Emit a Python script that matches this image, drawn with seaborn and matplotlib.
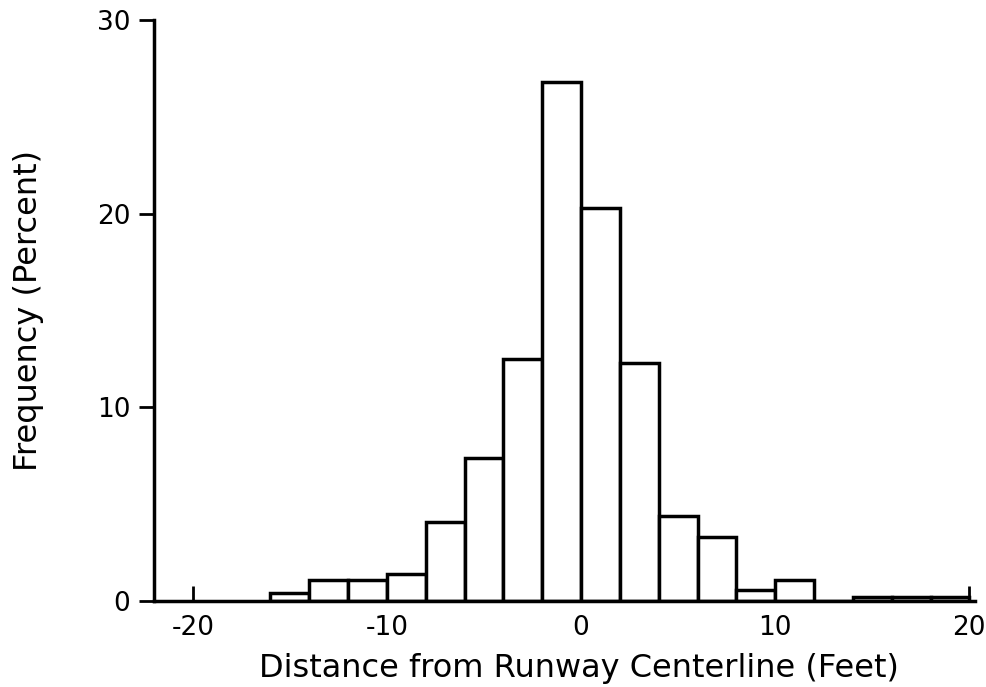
import matplotlib
matplotlib.use("Agg")
import matplotlib.pyplot as plt
import seaborn as sns
import numpy as np
import pandas as pd

# bins of 2 ft, from -16 to 20
bin_edges = [-16, -14, -12, -10, -8, -6, -4, -2, 0, 2, 4, 6, 8, 10, 12, 14, 16, 18, 20]
freq_pct = [0.4, 1.1, 1.1, 1.4, 4.1, 7.4, 12.5, 26.8, 20.3, 12.3, 4.4, 3.3, 0.6, 1.1, 0.0, 0.2, 0.2, 0.2]
x_ticks = [-20, -10, 0, 10, 20]
y_ticks = [0, 10, 20, 30]

sns.set_style("white")
plt.rcParams["font.family"] = ["DejaVu Sans"]
plt.rcParams["axes.unicode_minus"] = False

centers = [(a + b) / 2 for a, b in zip(bin_edges[:-1], bin_edges[1:])]
df = pd.DataFrame({"centre": centers, "pct": freq_pct})

fig = plt.figure(figsize=(9.87, 6.87), dpi=100)
ax = fig.add_axes([0.156, 0.125, 0.832, 0.846])

sns.histplot(data=df, x="centre", weights="pct", bins=bin_edges, stat="count",
             color="white", edgecolor="black", linewidth=2.5, alpha=1, ax=ax)

ax.set_xlim(-22, 20.3)
ax.set_ylim(0, 30)
ax.set_xticks(x_ticks)
ax.set_yticks(y_ticks)
ax.tick_params(axis="x", bottom=True, direction="in", length=11, width=2,
               labelsize=19, pad=10, colors="black")
ax.tick_params(axis="y", left=True, direction="out", length=11, width=2,
               labelsize=19, pad=6, colors="black")

for side in ["top", "right"]:
    ax.spines[side].set_visible(False)
for side in ["left", "bottom"]:
    ax.spines[side].set_linewidth(2.5)
    ax.spines[side].set_color("black")

ax.set_xlabel("Distance from Runway Centerline (Feet)", fontsize=23, color="black")
ax.set_ylabel("Frequency (Percent)", fontsize=23, color="black")
ax.xaxis.set_label_coords(0.517, -0.09)
ax.yaxis.set_label_coords(-0.134, 0.5)

fig.savefig("out.png", dpi=100)
